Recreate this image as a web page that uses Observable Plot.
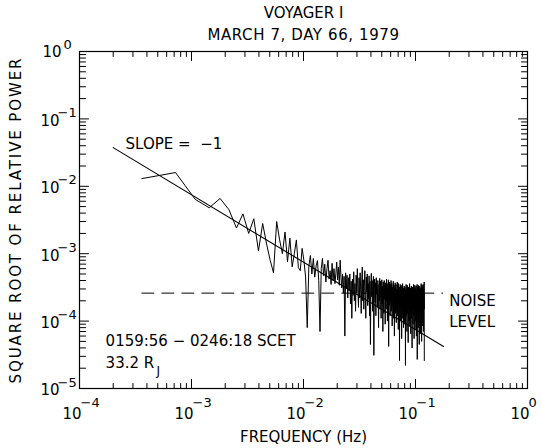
<!DOCTYPE html>
<html><head><meta charset="utf-8">
<script src="https://cdn.jsdelivr.net/npm/d3@7"></script>
<script src="https://cdn.jsdelivr.net/npm/@observablehq/plot@0.6"></script>
<style>
body{margin:0;background:#fff}
svg text{font-family:"DejaVu Sans",sans-serif;fill:#000}
</style>
</head><body><div id="chart"></div>
<script>
// spacing of the spectral estimates (frequency of the first estimate), Hz
const binWidth = 3.6e-4;
// square root of relative power, one value per frequency bin
const power = [
 1.3e-2,1.6e-2,6.4e-3,4.8e-3,6.6e-3,4.5e-3,2.4e-3,3.9e-3,2.0e-3,3.3e-3,
 1.1e-3,2.8e-3,1.4e-3,8.0e-4,5.2e-4,3.0e-3,1.6e-3,1.0e-3,2.1e-3,7.6e-4,
 1.7e-3,6.4e-4,1.0e-3,1.6e-3,6.2e-4,5.6e-4,1.2e-3,8.0e-4,4.5e-4,8.0e-5,
 6.5e-4,9.4e-4,5.0e-4,8.5e-4,4.5e-4,6.6e-4,7.9e-4,4.0e-4,7.0e-5,6.0e-4,
 8.5e-4,4.7e-4,7.0e-4,3.8e-4,6.0e-4,8.0e-4,4.2e-4,5.6e-4,3.5e-4,7.2e-4,
 4.0e-4,6.0e-4,3.6e-4,5.0e-4,7.5e-4,4.1e-4,6.3e-4,3.4e-4,8.0e-4,4.5e-4,
 3.1e-4,5.0e-4,2.6e-4,4.6e-4,6.0e-5,5.2e-4,3.0e-4,4.8e-4,2.2e-4,4.4e-4,
 2.8e-4,5.0e-4,1.8e-4,3.9e-4,1.1e-4,4.2e-4,2.4e-4,5.4e-4,2.0e-4,3.6e-4,
 1.4e-4,4.8e-4,2.6e-4,6.0e-4,3.0e-4,1.6e-4,4.4e-4,2.2e-4,5.2e-4,2.9e-4,
 1.3e-4,3.8e-4,6.3e-4,2.0e-4,4.1e-4,1.5e-4,3.3e-4,5.6e-4,2.4e-4,1.1e-4,
 4.5e-4,2.7e-4,5.0e-4,1.7e-4,3.6e-4,2.1e-4,4.7e-4,1.2e-4,3.9e-4,4.5e-5,
 3.4e-4,5.1e-4,2.3e-4,4.0e-4,1.4e-4,3.1e-4,4.6e-4,3.1e-5,2.8e-4,4.2e-4,
 1.9e-4,3.7e-4,1.2e-4,4.4e-4,2.5e-4,3.2e-4,1.6e-4,4.0e-4,2.2e-4,8.0e-5,
 3.5e-4,2.0e-4,4.3e-4,1.5e-4,3.0e-4,3.9e-4,1.1e-4,2.7e-4,4.1e-4,1.8e-4,
 3.3e-4,7.0e-5,3.8e-4,2.4e-4,1.3e-4,4.0e-4,2.1e-4,3.4e-4,9.0e-5,3.7e-4,
 2.6e-4,1.5e-4,4.2e-4,2.0e-4,3.1e-4,1.0e-4,3.6e-4,2.3e-4,4.1e-4,4.2e-5,
 3.0e-4,1.7e-4,3.8e-4,2.5e-4,1.2e-4,3.5e-4,2.0e-4,4.0e-4,1.4e-4,2.9e-4,
 3.6e-4,8.5e-5,3.2e-4,2.2e-4,1.6e-4,3.9e-4,1.1e-4,2.7e-4,3.4e-4,6.0e-5,
 3.1e-4,1.9e-4,3.7e-4,1.3e-4,2.6e-4,3.5e-4,9.5e-5,3.0e-4,2.1e-4,1.5e-4,
 3.8e-4,1.2e-4,2.8e-4,3.3e-4,7.5e-5,3.6e-4,1.8e-4,2.4e-4,3.2e-4,2.6e-5,
 3.0e-4,1.6e-4,3.5e-4,2.2e-4,1.0e-4,3.3e-4,1.9e-4,2.9e-4,5.5e-5,3.4e-4,
 1.4e-4,2.6e-4,3.6e-4,1.1e-4,2.3e-4,3.1e-4,8.0e-5,2.8e-4,1.7e-4,3.3e-4,
 2.0e-4,9.0e-5,3.2e-4,1.5e-4,2.5e-4,2.2e-5,3.0e-4,1.8e-4,3.5e-4,1.2e-4,
 2.7e-4,3.1e-4,7.0e-5,2.4e-4,3.4e-4,1.3e-4,2.1e-4,2.9e-4,4.8e-5,3.2e-4,
 1.6e-4,2.6e-4,1.0e-4,3.0e-4,2.0e-4,3.6e-4,8.5e-5,2.5e-4,1.4e-4,3.1e-4,
 2.2e-4,6.5e-5,2.8e-4,1.7e-4,3.3e-4,1.1e-4,2.4e-4,3.0e-4,4.0e-5,2.7e-4,
 1.5e-4,3.2e-4,2.0e-4,9.0e-5,2.9e-4,1.8e-4,3.5e-4,1.2e-4,2.6e-4,5.5e-5,
 3.0e-4,1.6e-4,2.3e-4,3.4e-4,7.5e-5,2.8e-4,1.4e-4,3.1e-4,2.1e-4,1.0e-4,
 3.3e-4,2.5e-4,6.0e-5,2.9e-4,1.7e-4,2.4e-4,3.5e-4,2.7e-5,2.6e-4,1.5e-4,
 3.2e-4,2.0e-4,1.1e-4,2.8e-4,3.4e-4,8.0e-5,2.3e-4,1.9e-4,3.0e-4,4.5e-5,
 2.7e-4,1.4e-4,3.3e-4,2.2e-4,9.5e-5,3.0e-4,1.7e-4,2.5e-4,6.5e-5,3.1e-4,
 2.0e-4,3.6e-4,1.2e-4,2.6e-4,5.0e-5,2.9e-4,1.6e-4,3.4e-4,2.1e-4,8.5e-5,
 3.2e-4,1.8e-4,2.7e-4,1.0e-4,3.5e-4,2.3e-4,7.0e-5,3.0e-4,1.5e-4,2.6e-4,
 1.5e-4,3.8e-4,2.6e-5
];
// reference line of slope -1 (end points)
const slopeFreq = [2.0e-4, 0.178];
const slopeValue = [3.75e-2, 4.2e-5];
// noise level (dashed)
const noiseFreq = [3.6e-4, 0.175];
const noiseLevel = 2.6e-4;
// axes
const xDecades = [1e-4, 1e-3, 1e-2, 1e-1, 1];
const xExponents = ["−4", "−3", "−2", "−1", "0"];
const yDecades = [1, 1e-1, 1e-2, 1e-3, 1e-4, 1e-5];
const yExponents = ["0", "−1", "−2", "−3", "−4", "−5"];
const minorMultipliers = [2, 3, 4, 5, 6, 7, 8, 9];
const titleLines = ["VOYAGER I", "MARCH 7, DAY 66, 1979"];
const xTitle = "FREQUENCY (Hz)";
const yTitle = "SQUARE ROOT OF RELATIVE POWER";

const spectrum = power.map((p, i) => ({f: (i + 1) * binWidth, p}));
const slope = slopeFreq.map((f, i) => ({f, p: slopeValue[i]}));
const noise = noiseFreq.map(f => ({f, p: noiseLevel}));
const minor = decades => decades.slice(0, -1).flatMap(d => minorMultipliers.map(m => d * m));
const xMinor = minor(xDecades);
const yMinor = minor([...yDecades].reverse());

const tick = {draw(ctx, l) { ctx.moveTo(0, 0); ctx.lineTo(0, -l); }};
const ticksX = (vals, len) => [
  Plot.vector(vals, {x: d => d, frameAnchor: "bottom", length: len, rotate: 0, anchor: "start", shape: tick, strokeWidth: 1}),
  Plot.vector(vals, {x: d => d, frameAnchor: "top", length: len, rotate: 180, anchor: "start", shape: tick, strokeWidth: 1})
];
const ticksY = (vals, len) => [
  Plot.vector(vals, {y: d => d, frameAnchor: "left", length: len, rotate: 90, anchor: "start", shape: tick, strokeWidth: 1}),
  Plot.vector(vals, {y: d => d, frameAnchor: "right", length: len, rotate: -90, anchor: "start", shape: tick, strokeWidth: 1})
];
const yNeg = yDecades.slice(1);
const T = {lineAnchor: "middle", fill: "black"};

const chart = Plot.plot({
  width: 542, height: 448,
  marginLeft: 79, marginRight: 15, marginTop: 51, marginBottom: 60,
  style: {fontFamily: "DejaVu Sans", background: "white", color: "black"},
  x: {type: "log", domain: [1e-4, 1], axis: null},
  y: {type: "log", domain: [1e-5, 1], axis: null},
  marks: [
    Plot.frame({stroke: "black", strokeWidth: 1.2}),
    ...ticksX(xMinor, 5), ...ticksX(xDecades, 9),
    ...ticksY(yMinor, 6), ...ticksY(yDecades, 9),
    Plot.line(noise, {x: "f", y: "p", stroke: "black", strokeWidth: 1, strokeDasharray: "12,8"}),
    Plot.line(slope, {x: "f", y: "p", stroke: "black", strokeWidth: 1.1}),
    Plot.line(spectrum, {x: "f", y: "p", stroke: "black", strokeWidth: 1}),
    // x tick labels
    Plot.text(xDecades, {...T, x: d => d, frameAnchor: "bottom", text: () => "10", textAnchor: "end", dx: 2, dy: 26, fontSize: 15}),
    Plot.text(xDecades, {...T, x: d => d, frameAnchor: "bottom", text: (d, i) => xExponents[i], textAnchor: "start", dx: 1, dy: 14.5, fontSize: 13}),
    // y tick labels
    Plot.text([1], {...T, y: d => d, frameAnchor: "left", text: () => "10", textAnchor: "end", dx: -18, dy: 1, fontSize: 15}),
    Plot.text([1], {...T, y: d => d, frameAnchor: "left", text: () => "0", textAnchor: "start", dx: -16, dy: -7, fontSize: 13}),
    Plot.text(yNeg, {...T, y: d => d, frameAnchor: "left", text: () => "10", textAnchor: "end", dx: -20, dy: 2, fontSize: 15}),
    Plot.text(yNeg, {...T, y: d => d, frameAnchor: "left", text: (d, i) => yExponents[i + 1], textAnchor: "start", dx: -22, dy: -6, fontSize: 13}),
    // axis titles
    Plot.text([xTitle], {...T, frameAnchor: "bottom", textAnchor: "middle", dy: 49, fontSize: 15}),
    Plot.text([yTitle], {...T, frameAnchor: "left", textAnchor: "middle", rotate: -90, dx: -63, fontSize: 15}),
    // title
    Plot.text([titleLines[0]], {...T, frameAnchor: "top", textAnchor: "middle", dy: -38, fontSize: 15}),
    Plot.text([titleLines[1]], {...T, frameAnchor: "top", textAnchor: "middle", dy: -16, fontSize: 15}),
    // annotations
    Plot.text(["SLOPE =  −1"], {...T, x: 2.58e-4, y: 4.17e-2, textAnchor: "start", fontSize: 15}),
    Plot.text(["0159:56 − 0246:18 SCET"], {...T, x: 1.71e-4, y: 5.0e-5, textAnchor: "start", fontSize: 15}),
    Plot.text(["33.2 R"], {...T, x: 1.71e-4, y: 2.4e-5, textAnchor: "start", fontSize: 15}),
    Plot.text(["J"], {...T, x: 1.71e-4, y: 2.4e-5, dx: 51, dy: 8, textAnchor: "start", fontSize: 12}),
    Plot.text(["NOISE"], {...T, x: 0.2, y: noiseLevel, dy: 8, textAnchor: "start", fontSize: 15}),
    Plot.text(["LEVEL"], {...T, x: 0.2, y: noiseLevel, dy: 29, textAnchor: "start", fontSize: 15})
  ]
});
// letter spacing of the hand lettering
d3.select(chart).selectAll("text").filter(function() { return this.textContent === yTitle; }).style("letter-spacing", "1.9px");
d3.select(chart).selectAll("text").filter(function() { return this.textContent === titleLines[1]; }).style("letter-spacing", "0.6px");
document.getElementById("chart").append(chart);
</script>
</body></html>
